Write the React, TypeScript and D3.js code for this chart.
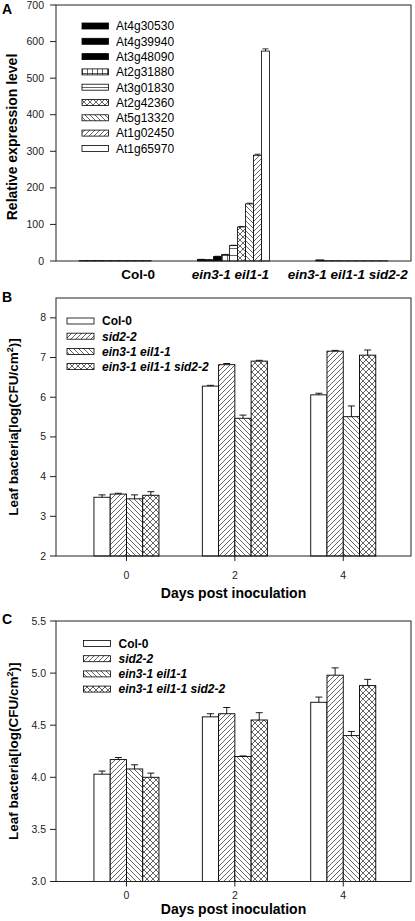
import React from "react";
import * as d3 from "d3";

// ---------- Panel A data ----------
const genes = ["At4g30530", "At4g39940", "At3g48090", "At2g31880", "At3g01830", "At2g42360", "At5g13320", "At1g02450", "At1g65970"];
const geneFills = ["url(#pBlack)", "url(#pBlack)", "url(#pBlack)", "url(#pGrid)", "url(#pHoriz)", "url(#pCross)", "url(#pBack)", "url(#pFwd)", "url(#pWhite)"];
const genotypesA = ["Col-0", "ein3-1 eil1-1", "ein3-1 eil1-1 sid2-2"];
const exprCol0 = [1, 1, 1, 1, 1, 1, 1, 1, 1];
const exprEin3 = [4, 3, 12, 17, 42, 93, 156, 289, 574];
const exprTriple = [3, 0.6, 0.6, 0.6, 0.6, 0.6, 0.6, 0.6, 0.6];
const errEin3 = [0.5, 0.5, 1, 1, 1, 1.5, 2, 3, 6];
const yTicksA = [0, 100, 200, 300, 400, 500, 600, 700];

// ---------- Panels B & C data ----------
const series = ["Col-0", "sid2-2", "ein3-1 eil1-1", "ein3-1 eil1-1 sid2-2"];
const seriesFills = ["url(#pWhite)", "url(#pFwd)", "url(#pBack)", "url(#pCross)"];
const days = [0, 2, 4];

const col0B = [3.48, 6.28, 6.06];
const sid2B = [3.56, 6.82, 7.16];
const ein3B = [3.44, 5.47, 5.51];
const tripleB = [3.53, 6.91, 7.06];
const col0BErr = [0.06, 0.02, 0.04];
const sid2BErr = [0.02, 0.03, 0.02];
const ein3BErr = [0.1, 0.08, 0.27];
const tripleBErr = [0.09, 0.02, 0.13];
const yTicksB = [2, 3, 4, 5, 6, 7, 8];

const col0C = [4.03, 4.58, 4.72];
const sid2C = [4.17, 4.61, 4.98];
const ein3C = [4.08, 4.2, 4.4];
const tripleC = [4.0, 4.55, 4.88];
const col0CErr = [0.03, 0.03, 0.05];
const sid2CErr = [0.02, 0.06, 0.07];
const ein3CErr = [0.04, 0.005, 0.04];
const tripleCErr = [0.04, 0.07, 0.06];
const yTicksC = [3.0, 3.5, 4.0, 4.5, 5.0, 5.5];

const FONT = "'Liberation Sans', Arial, Helvetica, sans-serif";
const L = 56, R = 411;

function Patterns() {
  const sw = 0.7;
  return (
    <defs>
      <pattern id="pBlack" patternUnits="userSpaceOnUse" width="4" height="4">
        <rect width="4" height="4" fill="#000" />
      </pattern>
      <pattern id="pWhite" patternUnits="userSpaceOnUse" width="4" height="4">
        <rect width="4" height="4" fill="#fff" />
      </pattern>
      <pattern id="pFwd" patternUnits="userSpaceOnUse" width="5" height="5">
        <rect width="5" height="5" fill="#fff" />
        <path d="M-1,1 L1,-1 M0,5 L5,0 M4,6 L6,4" stroke="#222" strokeWidth={sw} />
      </pattern>
      <pattern id="pBack" patternUnits="userSpaceOnUse" width="5" height="5">
        <rect width="5" height="5" fill="#fff" />
        <path d="M-1,4 L1,6 M0,0 L5,5 M4,-1 L6,1" stroke="#222" strokeWidth={sw} />
      </pattern>
      <pattern id="pCross" patternUnits="userSpaceOnUse" width="6" height="6">
        <rect width="6" height="6" fill="#fff" />
        <path d="M0,0 L6,6 M0,6 L6,0" stroke="#222" strokeWidth={sw} />
      </pattern>
      <pattern id="pHoriz" patternUnits="userSpaceOnUse" width="4" height="7">
        <rect width="4" height="7" fill="#fff" />
        <path d="M0,3.5 L4,3.5" stroke="#222" strokeWidth={sw} />
      </pattern>
      <pattern id="pGrid" patternUnits="userSpaceOnUse" width="5" height="7">
        <rect width="5" height="7" fill="#fff" />
        <path d="M2.5,0 L2.5,7 M0,3.5 L5,3.5" stroke="#222" strokeWidth={sw} />
      </pattern>
    </defs>
  );
}

function PanelA() {
  const top = 5, bottom = 261;
  const y = d3.scaleLinear().domain([0, 700]).range([bottom, top]);
  const xg = d3.scaleBand<string>().domain(genotypesA).range([L, R]).padding(0);
  const groupW = 72;
  const rows = [exprCol0, exprEin3, exprTriple];
  const errs = [null, errEin3, null];
  const labelDx = [23, -3, -4];
  return (
    <g>
      <text x={2} y={14} fontFamily={FONT} fontWeight="bold" fontSize={14}>A</text>
      {rows.map((vals, gi) => {
        const c = (xg(genotypesA[gi]) as number) + xg.bandwidth() / 2;
        const xb = d3.scaleBand<string>().domain(genes).range([c - groupW / 2, c + groupW / 2]);
        return (
          <g key={gi}>
            {vals.map((v, i) => (
              <rect key={i} x={xb(genes[i])} y={y(v)} width={xb.bandwidth()} height={bottom - y(v)}
                fill={geneFills[i]} stroke="#000" strokeWidth={0.8} />
            ))}
            {errs[gi] && vals.map((v, i) => {
              const e = (errs[gi] as number[])[i];
              const cx = (xb(genes[i]) as number) + xb.bandwidth() / 2;
              return (
                <g key={"e" + i} stroke="#000" strokeWidth={0.8}>
                  <line x1={cx} x2={cx} y1={y(v)} y2={y(v + e)} />
                  <line x1={cx - 3} x2={cx + 3} y1={y(v + e)} y2={y(v + e)} />
                </g>
              );
            })}
            <text x={c + labelDx[gi]} y={279} textAnchor="middle" fontFamily={FONT} fontWeight="bold"
              fontStyle={gi === 0 ? "normal" : "italic"} fontSize={13.5}>{genotypesA[gi]}</text>
          </g>
        );
      })}
      <rect x={L} y={top} width={R - L} height={bottom - top} fill="none" stroke="#222" strokeWidth={1} />
      {yTicksA.map((t) => (
        <g key={t}>
          <line x1={L - 6} x2={L} y1={y(t)} y2={y(t)} stroke="#222" />
          <text x={44} y={y(t) + 3.5} textAnchor="end" fontFamily={FONT} fontSize={10.5} fill="#222">{t}</text>
        </g>
      ))}
      <text transform={`translate(17,${(top + bottom) / 2 + 4}) rotate(-90)`} textAnchor="middle"
        fontFamily={FONT} fontWeight="bold" fontSize={14}>Relative expression level</text>
      {genes.map((g, i) => {
        const ly = 26 + i * 15.3;
        return (
          <g key={g}>
            <rect x={82} y={ly - 3} width={26.5} height={6} fill={geneFills[i]} stroke="#000" strokeWidth={0.8} />
            <text x={116} y={ly + 4.3} fontFamily={FONT} fontSize={12}>{g}</text>
          </g>
        );
      })}
    </g>
  );
}

type BCProps = {
  letter: string; top: number; bottom: number; domain: [number, number]; ticks: number[];
  fmt: (v: number) => string; vals: number[][]; errs: number[][];
  legendX: number; legendY: number; tickLabelY: number; titleY: number; letterY: number;
};

function PanelBC(p: BCProps) {
  const y = d3.scaleLinear().domain(p.domain).range([p.bottom, p.top]);
  const x = d3.scaleLinear().domain([-1.3, 5.25]).range([L, R]);
  const unit = x(1) - x(0);
  return (
    <g>
      <text x={2} y={p.letterY} fontFamily={FONT} fontWeight="bold" fontSize={14}>{p.letter}</text>
      {days.map((d, di) => {
        const xb = d3.scaleBand<string>().domain(series).range([x(d) - 0.6 * unit, x(d) + 0.6 * unit]);
        return (
          <g key={d}>
            {series.map((s, si) => {
              const v = p.vals[si][di];
              const e = p.errs[si][di];
              const bx = xb(s) as number;
              const cx = bx + xb.bandwidth() / 2;
              return (
                <g key={s}>
                  <rect x={bx} y={y(v)} width={xb.bandwidth()} height={p.bottom - y(v)} fill={seriesFills[si]}
                    stroke="#000" strokeWidth={0.9} />
                  <g stroke="#000" strokeWidth={0.9}>
                    <line x1={cx} x2={cx} y1={y(v)} y2={y(v + e)} />
                    <line x1={cx - 3.5} x2={cx + 3.5} y1={y(v + e)} y2={y(v + e)} />
                  </g>
                </g>
              );
            })}
            <line x1={x(d)} x2={x(d)} y1={p.bottom} y2={p.bottom + 5} stroke="#222" />
            <text x={x(d)} y={p.tickLabelY} textAnchor="middle" fontFamily={FONT} fontSize={10.5} fill="#222">{d}</text>
          </g>
        );
      })}
      <rect x={L} y={p.top} width={R - L} height={p.bottom - p.top} fill="none" stroke="#222" strokeWidth={1} />
      {p.ticks.map((t) => (
        <g key={t}>
          <line x1={L - 6} x2={L} y1={y(t)} y2={y(t)} stroke="#222" />
          <text x={46} y={y(t) + 3.5} textAnchor="end" fontFamily={FONT} fontSize={10.5} fill="#222">{p.fmt(t)}</text>
        </g>
      ))}
      <text transform={`translate(18,${(p.top + p.bottom) / 2}) rotate(-90)`} textAnchor="middle"
        fontFamily={FONT} fontWeight="bold" fontSize={13.5}>
        Leaf bacteria[log(CFU/cm<tspan dy={-5} fontSize={9}>2</tspan><tspan dy={5}>)]</tspan>
      </text>
      <text x={(L + R) / 2 + 0} y={p.titleY} textAnchor="middle" fontFamily={FONT} fontWeight="bold" fontSize={14}>
        Days post inoculation
      </text>
      {series.map((s, i) => {
        const ly = p.legendY + i * 15.2;
        return (
          <g key={s}>
            <rect x={p.legendX} y={ly - 3} width={27} height={6} fill={seriesFills[i]} stroke="#000" strokeWidth={0.8} />
            <text x={p.legendX + 35} y={ly + 4.3} fontFamily={FONT} fontWeight="bold" fontSize={12}
              fontStyle={i === 0 ? "normal" : "italic"}>{s}</text>
          </g>
        );
      })}
    </g>
  );
}

export default function App() {
  return (
    <div style={{ position: "fixed", left: 0, top: 0 }}>
      <svg width={415} height={921} style={{ display: "block", background: "#fff" }}>
        <Patterns />
        <PanelA />
        <PanelBC letter="B" top={298} bottom={556} domain={[2, 8.5]} ticks={yTicksB} fmt={(v) => String(v)}
          vals={[col0B, sid2B, ein3B, tripleB]} errs={[col0BErr, sid2BErr, ein3BErr, tripleBErr]}
          legendX={67} legendY={321} tickLabelY={579} titleY={598} letterY={302} />
        <PanelBC letter="C" top={621} bottom={881.5} domain={[3, 5.5]} ticks={yTicksC} fmt={(v) => v.toFixed(1)}
          vals={[col0C, sid2C, ein3C, tripleC]} errs={[col0CErr, sid2CErr, ein3CErr, tripleCErr]}
          legendX={83.5} legendY={643.5} tickLabelY={899} titleY={914} letterY={624} />
      </svg>
    </div>
  );
}
